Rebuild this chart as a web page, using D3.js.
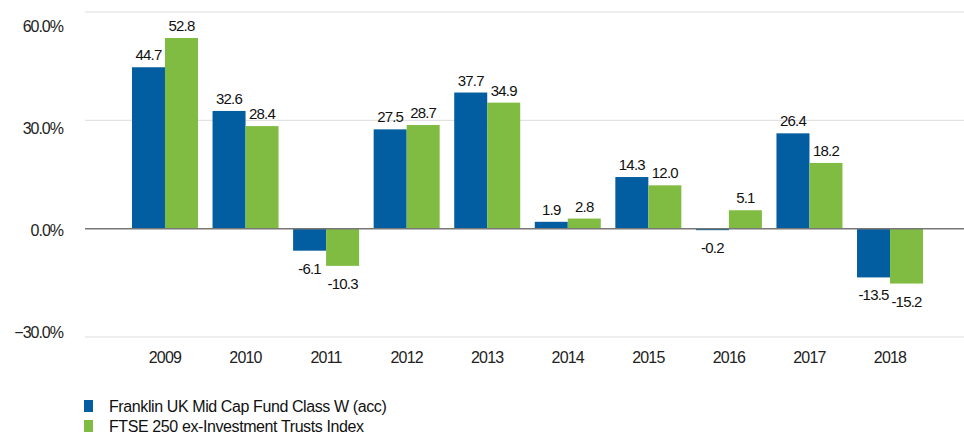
<!DOCTYPE html>
<html>
<head>
<meta charset="utf-8">
<script src="https://cdn.jsdelivr.net/npm/d3@7"></script>
<style>
  body { margin: 0; background: #fff; }
  svg { display: block; font-family: "Liberation Sans", Arial, sans-serif; }
</style>
</head>
<body>
<script>
// Calendar year returns (%)
const years = ["2009", "2010", "2011", "2012", "2013", "2014", "2015", "2016", "2017", "2018"];
const fundReturns = [44.7, 32.6, -6.1, 27.5, 37.7, 1.9, 14.3, -0.2, 26.4, -13.5];
const indexReturns = [52.8, 28.4, -10.3, 28.7, 34.9, 2.8, 12.0, 5.1, 18.2, -15.2];
const yTicks = [-30, 0, 30, 60];
const seriesNames = ["Franklin UK Mid Cap Fund Class W (acc)", "FTSE 250 ex-Investment Trusts Index"];
const seriesColors = ["#035ea1", "#80bc41"];

const width = 964, height = 434;

const svg = d3.select("body").append("svg")
  .attr("width", width).attr("height", height);

const x = d3.scaleBand().domain(years).range([124.7, 930.3]).paddingInner(0).paddingOuter(0);
const inner = d3.scaleBand().domain([0, 1]).range([0, 66]);
const groupOffset = (x.bandwidth() - 66) / 2;
const y = d3.scaleLinear().domain([-30, 60]).range([337, 12]);
// tick labels sit a little off the gridlines in the original
const yLabel = d3.scaleLinear().domain([-30, 60]).range([332, 26]);

// gridlines
svg.append("g").selectAll("line")
  .data(yTicks.filter(d => d !== 0))
  .join("line")
  .attr("x1", 85).attr("x2", 964)
  .attr("y1", d => y(d)).attr("y2", d => y(d))
  .attr("stroke", "#dcdcdc").attr("stroke-width", 1);

svg.append("g").selectAll("text")
  .data(yTicks)
  .join("text")
  .attr("x", 63).attr("y", d => yLabel(d))
  .attr("dy", "0.36em")
  .attr("text-anchor", "end")
  .attr("font-size", 16).attr("letter-spacing", "-1px").attr("fill", "#222")
  .text(d => d3.format(".1f")(d) + "%");

// bars
const series = [fundReturns, indexReturns];
series.forEach((vals, s) => {
  const g = svg.append("g");
  g.selectAll("rect")
    .data(vals)
    .join("rect")
    .attr("x", (d, i) => x(years[i]) + groupOffset + inner(s))
    .attr("width", inner.bandwidth())
    .attr("y", d => y(Math.max(0, d)))
    .attr("height", d => Math.max(1.5, Math.abs(y(d) - y(0))))
    .attr("fill", seriesColors[s]);

  g.selectAll("text")
    .data(vals)
    .join("text")
    .attr("x", (d, i) => x(years[i]) + groupOffset + inner(s) + inner.bandwidth() / 2)
    .attr("y", d => d >= 0 ? y(d) - 7 : Math.max(y(d), y(0) + 1.5) + 23)
    .attr("text-anchor", "middle")
    .attr("font-size", 15).attr("letter-spacing", "-0.8px").attr("fill", "#111")
    .text(d => d.toFixed(1));
});

// zero line
svg.append("line")
  .attr("x1", 85).attr("x2", 964)
  .attr("y1", y(0)).attr("y2", y(0))
  .attr("stroke", "#777").attr("stroke-width", 1.5);

// x axis labels
svg.append("g").selectAll("text")
  .data(years)
  .join("text")
  .attr("x", d => x(d) + x.bandwidth() / 2)
  .attr("y", 363)
  .attr("text-anchor", "middle")
  .attr("font-size", 16).attr("letter-spacing", "-0.8px").attr("fill", "#222")
  .text(d => d);

// legend
const legend = svg.append("g").attr("transform", "translate(84,400)");
seriesNames.forEach((name, i) => {
  legend.append("rect")
    .attr("x", 0).attr("y", i * 20)
    .attr("width", 9).attr("height", 12)
    .attr("fill", seriesColors[i]);
  legend.append("text")
    .attr("x", 25).attr("y", i * 20 + 6)
    .attr("dy", "0.36em")
    .attr("font-size", 16).attr("letter-spacing", "-0.4px").attr("fill", "#111")
    .text(name);
});
</script>
</body>
</html>
